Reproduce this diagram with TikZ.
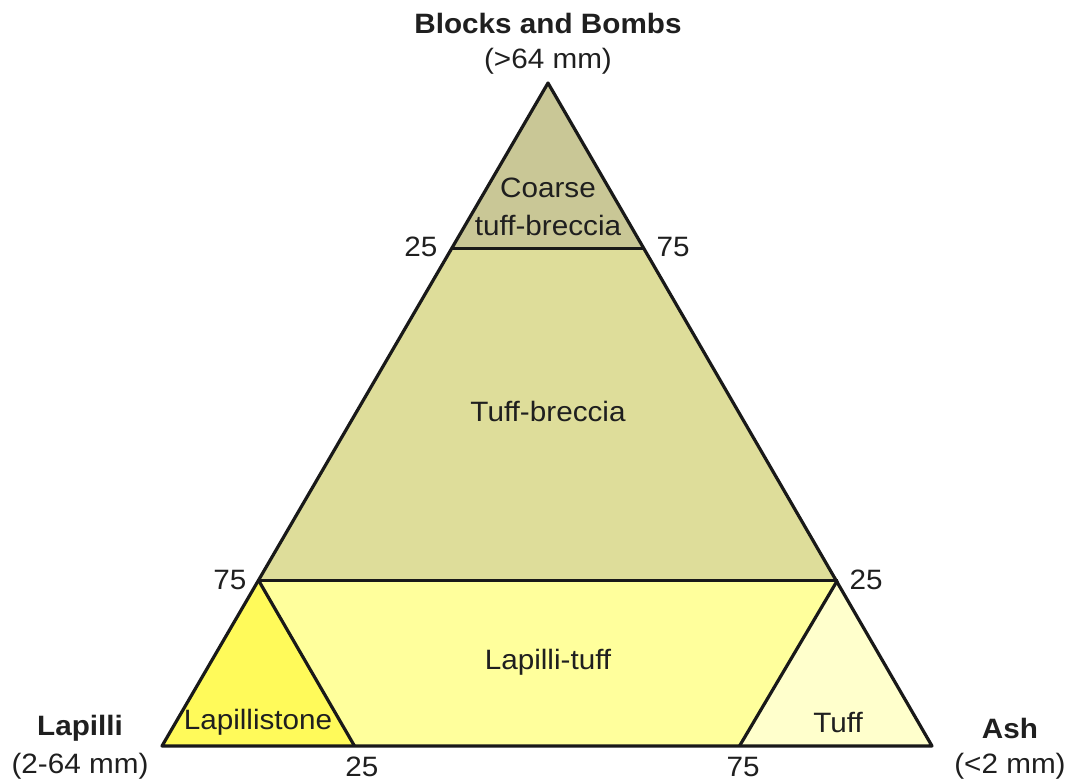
\documentclass[tikz,border=0pt]{standalone}
\usepackage{graphicx}
\usepackage{fontspec}
\setmainfont{Liberation Sans}
\newcommand\wide[1]{\scalebox{1.06}[1]{#1}}
\begin{document}
\begin{tikzpicture}[x=1pt,y=-1pt,
  lbl/.style={font=\fontsize{28}{30}\selectfont, text=black!88, inner sep=0pt},
  ttl/.style={font=\fontsize{28}{30}\selectfont\bfseries, text=black!88, inner sep=0pt},
  edge/.style={line width=3.2pt, line join=round, draw=black!90}]
\useasboundingbox (0,0) rectangle (1066,782);
\definecolor{coarse}{HTML}{C9C796}
\definecolor{breccia}{HTML}{DEDD9A}
\definecolor{ltuff}{HTML}{FFFF9C}
\definecolor{lstone}{HTML}{FFFA5A}
\definecolor{tuffc}{HTML}{FFFFCC}
% vertices
\coordinate (A) at (548,83);
\coordinate (L) at (162,746);
\coordinate (R) at (932,746);
\coordinate (a1) at (451.5,248.75);
\coordinate (a2) at (644.5,248.75);
\coordinate (b1) at (258.5,580.25);
\coordinate (b2) at (837.5,580.25);
\coordinate (c1) at (354.5,746);
\coordinate (c2) at (739.5,746);
% fills
\fill[coarse] (A) -- (a2) -- (a1) -- cycle;
\fill[breccia] (a1) -- (a2) -- (b2) -- (b1) -- cycle;
\fill[ltuff] (b1) -- (b2) -- (R) -- (L) -- cycle;
\fill[lstone] (b1) -- (c1) -- (L) -- cycle;
\fill[tuffc] (b2) -- (R) -- (c2) -- cycle;
% lines
\draw[edge] (a1) -- (a2);
\draw[edge] (b1) -- (b2);
\draw[edge] (b1) -- (c1);
\draw[edge] (b2) -- (c2);
\draw[edge] (A) -- (R) -- (L) -- cycle;
% labels
\node[ttl] (tBB) at (548,23) {\wide{Blocks and Bombs}};
\node[lbl] (tBBs) at (548,61) {\wide{(>64 mm)}};
\node[ttl] (tL) at (80,728) {\wide{Lapilli}};
\node[lbl] (tLs) at (80,766) {\wide{(2-64 mm)}};
\node[ttl] (tA) at (1010,728) {\wide{Ash}};
\node[lbl] (tAs) at (1010,766) {\wide{(<2 mm)}};
\node[lbl] (rC1) at (548,188) {\wide{Coarse}};
\node[lbl] (rC2) at (548,225) {\wide{tuff-breccia}};
\node[lbl] (rTB) at (548,411) {\wide{Tuff-breccia}};
\node[lbl] (rLT) at (548,662) {\wide{Lapilli-tuff}};
\node[lbl] (rLS) at (258,722) {\wide{Lapillistone}};
\node[lbl] (rT) at (838,722) {\wide{Tuff}};
\node[lbl] (n1) at (421,247) {\wide{25}};
\node[lbl] (n2) at (673,247) {\wide{75}};
\node[lbl] (n3) at (230,580) {\wide{75}};
\node[lbl] (n4) at (866,580) {\wide{25}};
\node[lbl] (n5) at (362,767) {\wide{25}};
\node[lbl] (n6) at (743,767) {\wide{75}};
\end{tikzpicture}
\end{document}
